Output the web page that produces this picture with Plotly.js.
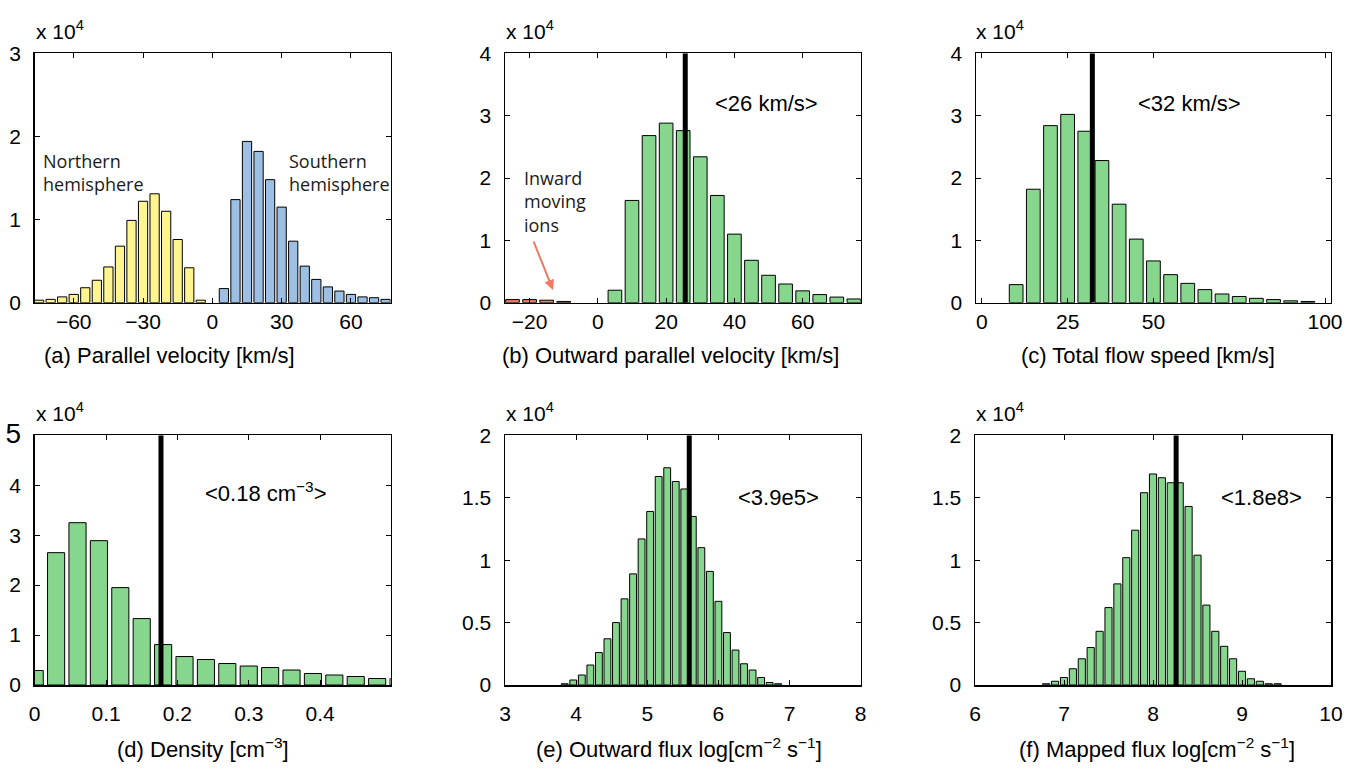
<!DOCTYPE html>
<html>
<head>
<meta charset="utf-8">
<script src="https://cdn.plot.ly/plotly-3.0.1.min.js"></script>
<style>html,body{margin:0;padding:0;background:#fff;}#chart{width:1354px;height:769px;}</style>
</head>
<body>
<div id="chart"></div>
<script>
// ---------- DATA (counts in units of 10^4) ----------
// (a) Parallel velocity [km/s]
const northBins   = [-75,-70,-65,-60,-55,-50,-45,-40,-35,-30,-25,-20,-15,-10,-5];
const northCounts = [0.03,0.04,0.07,0.10,0.18,0.27,0.43,0.68,0.99,1.22,1.31,1.10,0.76,0.42,0.03];
const southBins   = [5,10,15,20,25,30,35,40,45,50,55,60,65,70,75];
const southCounts = [0.17,1.24,1.94,1.82,1.48,1.15,0.74,0.44,0.28,0.19,0.14,0.10,0.07,0.06,0.04];

// (b) Outward parallel velocity [km/s]
const inwardBins    = [-25,-20,-15,-10];
const inwardCounts  = [0.05,0.05,0.04,0.02];
const outwardBins   = [5,10,15,20,25,30,35,40,45,50,55,60,65,70,75];
const outwardCounts = [0.20,1.64,2.68,2.88,2.76,2.34,1.72,1.10,0.68,0.44,0.30,0.19,0.13,0.09,0.06];

// (c) Total flow speed [km/s]
const speedBins   = [10,15,20,25,30,35,40,45,50,55,60,65,70,75,80,85,90,95];
const speedCounts = [0.29,1.82,2.84,3.02,2.75,2.28,1.58,1.02,0.67,0.45,0.31,0.21,0.14,0.10,0.07,0.05,0.03,0.02];

// (d) Density [cm^-3]
const densityBins   = [0,0.03,0.06,0.09,0.12,0.15,0.18,0.21,0.24,0.27,0.30,0.33,0.36,0.39,0.42,0.45,0.48,0.51];
const densityCounts = [0.29,2.65,3.25,2.89,1.95,1.33,0.81,0.57,0.51,0.43,0.38,0.35,0.30,0.23,0.20,0.17,0.13,0.13];

// (e) Outward flux log[cm^-2 s^-1]
const outFluxBins   = [3.84,3.96,4.08,4.20,4.32,4.44,4.56,4.68,4.80,4.92,5.04,5.16,5.28,5.40,5.52,5.64,5.76,5.88,6.00,6.12,6.24,6.36,6.48,6.60,6.72,6.84];
const outFluxCounts = [0.01,0.04,0.08,0.16,0.26,0.37,0.50,0.69,0.89,1.17,1.39,1.67,1.74,1.63,1.57,1.35,1.10,0.91,0.67,0.42,0.28,0.17,0.12,0.06,0.02,0.01];

// (f) Mapped flux log[cm^-2 s^-1]
const mapFluxBins   = [6.8,6.9,7.0,7.1,7.2,7.3,7.4,7.5,7.6,7.7,7.8,7.9,8.0,8.1,8.2,8.3,8.4,8.5,8.6,8.7,8.8,8.9,9.0,9.1,9.2,9.3,9.4];
const mapFluxCounts = [0.01,0.03,0.06,0.13,0.21,0.30,0.43,0.62,0.81,1.02,1.24,1.54,1.69,1.66,1.62,1.62,1.43,1.04,0.64,0.43,0.31,0.21,0.11,0.05,0.03,0.01,0.01];

// mean values (vertical lines) for panels b..f
const meanValues = [25.6, 32.2, 0.177, 5.59, 8.26];
const meanLabels = ['&lt;26 km/s&gt;', '&lt;32 km/s&gt;', '&lt;0.18 cm<sup>\u22123</sup>&gt;', '&lt;3.9e5&gt;', '&lt;1.8e8&gt;'];

// tick values
const xTicksA = [-60,-30,0,30,60];
const xTicksB = [-20,0,20,40,60];
const xTicksC = [0,25,50,100];
const xTicksD = [0,0.1,0.2,0.3,0.4];
const xTicksE = [3,4,5,6,7,8];
const xTicksF = [6,7,8,9,10];
const yTicksA = [0,1,2,3];
const yTicksBC = [0,1,2,3,4];
const yTicksD = [0,1,2,3,4,5];
const yTicksEF = [0,0.5,1,1.5,2];

const axisTitles = [
  '(a) Parallel velocity [km/s]',
  '(b) Outward parallel velocity [km/s]',
  '(c) Total flow speed [km/s]',
  '(d) Density [cm<sup>\u22123</sup>]',
  '(e) Outward flux log[cm<sup>\u22122</sup> s<sup>\u22121</sup>]',
  '(f) Mapped flux log[cm<sup>\u22122</sup> s<sup>\u22121</sup>]'
];

// ---------- STYLE ----------
const W = 1354, H = 769;
const GREEN = '#86d68d', YELLOW = '#fff48f', BLUE = '#9dbfe3', RED = '#ef7a62';
const FONT = 'Liberation Sans, Arial, Helvetica, sans-serif';
const HFONT = 'Open Sans, Noto Sans, sans-serif';
const px = p => p / W;
const py = p => 1 - p / H;

function bars(xs, ys, color, xa, ya) {
  return {type:'bar', x:xs, y:ys, width:0.8*(xs[1]-xs[0]),
    marker:{color:color, line:{color:'black', width:1}},
    xaxis:xa, yaxis:ya, hoverinfo:'skip'};
}
function meanLine(m, top, xa, ya) {
  return {type:'scatter', mode:'lines', x:[m,m], y:[0,top],
    line:{color:'black', width:5}, xaxis:xa, yaxis:ya, hoverinfo:'skip'};
}
function axBase(extra) {
  return Object.assign({showline:true, linecolor:'black', linewidth:1.5, mirror:'ticks',
    ticks:'inside', ticklen:5, tickwidth:1, tickcolor:'black', showgrid:false, zeroline:false,
    fixedrange:true, tickfont:{family:FONT, size:21, color:'black'}}, extra);
}

const data = [
  bars(northBins, northCounts, YELLOW, 'x', 'y'),
  bars(southBins, southCounts, BLUE, 'x', 'y'),
  bars(inwardBins, inwardCounts, RED, 'x2', 'y2'),
  bars(outwardBins, outwardCounts, GREEN, 'x2', 'y2'),
  meanLine(meanValues[0], 4, 'x2', 'y2'),
  bars(speedBins, speedCounts, GREEN, 'x3', 'y3'),
  meanLine(meanValues[1], 4, 'x3', 'y3'),
  bars(densityBins, densityCounts, GREEN, 'x4', 'y4'),
  meanLine(meanValues[2], 5, 'x4', 'y4'),
  bars(outFluxBins, outFluxCounts, GREEN, 'x5', 'y5'),
  meanLine(meanValues[3], 2, 'x5', 'y5'),
  bars(mapFluxBins, mapFluxCounts, GREEN, 'x6', 'y6'),
  meanLine(meanValues[4], 2, 'x6', 'y6')
];

const colA = [px(34.7), px(390.7)], colB = [px(505), px(860.7)], colC = [px(976), px(1330.5)];
const rowTop = [py(302.7), py(53.3)], rowBot = [py(685), py(435.3)];
const topStand = 0, botStand = 9;

const layout = {
  width:W, height:H, margin:{l:0,r:0,t:0,b:0},
  paper_bgcolor:'white', plot_bgcolor:'white', showlegend:false, barmode:'overlay',
  font:{family:FONT, size:21, color:'black'},
  xaxis:  axBase({domain:colA, range:[-76.9,77.2], tickvals:xTicksA, anchor:'y', ticklabelstandoff:topStand}),
  yaxis:  axBase({domain:rowTop, range:[0,3], tickvals:yTicksA, anchor:'x', ticklabelstandoff:8}),
  xaxis2: axBase({domain:colB, range:[-27.2,77.0], tickvals:xTicksB, anchor:'y2', ticklabelstandoff:topStand}),
  yaxis2: axBase({domain:rowTop, range:[0,4], tickvals:yTicksBC, anchor:'x2', ticklabelstandoff:8}),
  xaxis3: axBase({domain:colC, range:[-1.7,101.6], tickvals:xTicksC, anchor:'y3', ticklabelstandoff:topStand}),
  yaxis3: axBase({domain:rowTop, range:[0,4], tickvals:yTicksBC, anchor:'x3', ticklabelstandoff:8}),
  xaxis4: axBase({domain:colA, range:[0,0.499], tickvals:xTicksD, anchor:'y4', ticklabelstandoff:botStand}),
  yaxis4: axBase({domain:rowBot, range:[0,5], tickvals:yTicksD,
    ticktext:yTicksD.map(v => v === 5 ? '<span style="font-size:28px">5</span>' : String(v)),
    anchor:'x4', ticklabelstandoff:8}),
  xaxis5: axBase({domain:colB, range:[3,8], tickvals:xTicksE, anchor:'y5', ticklabelstandoff:botStand}),
  yaxis5: axBase({domain:rowBot, range:[0,2], tickvals:yTicksEF, anchor:'x5', ticklabelstandoff:8}),
  xaxis6: axBase({domain:[px(975), px(1331)], range:[6,10], tickvals:xTicksF, anchor:'y6', ticklabelstandoff:botStand}),
  yaxis6: axBase({domain:rowBot, range:[0,2], tickvals:yTicksEF, anchor:'x6', ticklabelstandoff:8}),
  annotations: []
};

const A = layout.annotations;
// x 10^4 multipliers
[[34,30],[504,30],[974,30],[34,412],[504,412],[974,412]].forEach(p => {
  A.push({xref:'paper', yref:'paper', x:px(p[0]), y:py(p[1]), xanchor:'left', yanchor:'middle',
    text:'x 10<sup>4</sup>', showarrow:false, font:{family:FONT, size:21, color:'black'}});
});
// axis titles
[[169,355],[670,355],[1148,355],[203,748],[679,748],[1157,748]].forEach((p,i) => {
  A.push({xref:'paper', yref:'paper', x:px(p[0]), y:py(p[1]), xanchor:'center', yanchor:'middle',
    text:axisTitles[i], showarrow:false, font:{family:FONT, size:22, color:'black'}});
});
// mean labels
[[766,103],[1189,103],[266,492],[778,497],[1261,497]].forEach((p,i) => {
  A.push({xref:'paper', yref:'paper', x:px(p[0]), y:py(p[1]), xanchor:'center', yanchor:'middle',
    text:meanLabels[i], showarrow:false, font:{family:FONT, size:22, color:'black'}});
});
// hemisphere labels
A.push({xref:'paper', yref:'paper', x:px(41), y:py(172.5), xanchor:'left', yanchor:'middle', align:'left',
  text:'Northern<br>hemisphere', showarrow:false, font:{family:HFONT, size:18, color:'#1a1a1a'}});
A.push({xref:'paper', yref:'paper', x:px(287), y:py(172.5), xanchor:'left', yanchor:'middle', align:'left',
  text:'Southern<br>hemisphere', showarrow:false, font:{family:HFONT, size:18, color:'#1a1a1a'}});
A.push({xref:'paper', yref:'paper', x:px(522), y:py(201), xanchor:'left', yanchor:'middle', align:'left',
  text:'Inward<br>moving<br>ions', showarrow:false, font:{family:HFONT, size:18, color:'#1a1a1a'}});
// arrow
A.push({xref:'paper', yref:'paper', x:px(553), y:py(290), ax:-20, ay:-50, text:'', showarrow:true,
  arrowhead:2, arrowsize:1, arrowwidth:2, arrowcolor:RED});

Plotly.newPlot('chart', data, layout, {displayModeBar:false, staticPlot:true});
</script>
</body>
</html>
